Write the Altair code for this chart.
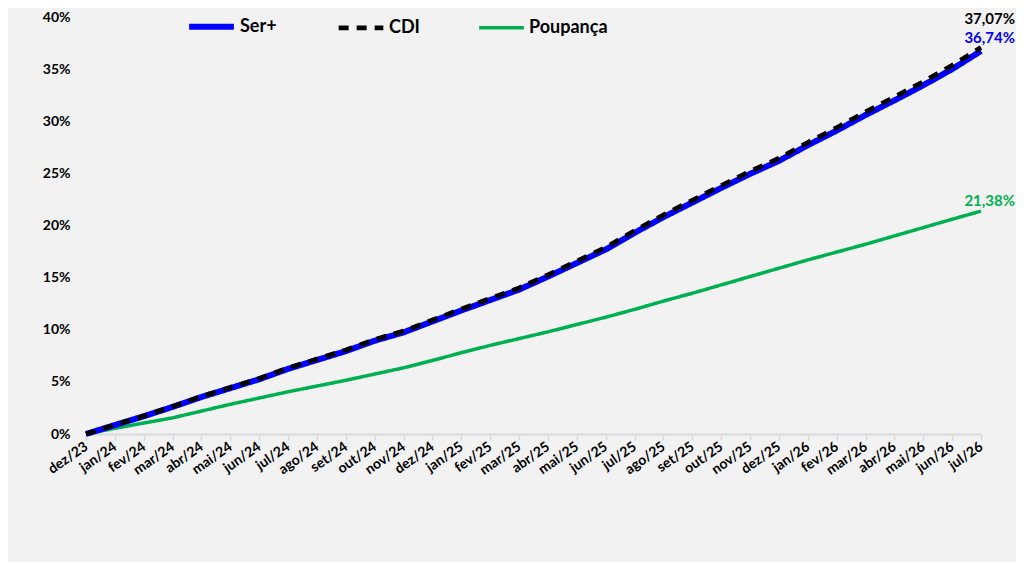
import altair as alt
import pandas as pd

months = ["dez/23",
          "jan/24", "fev/24", "mar/24", "abr/24", "mai/24", "jun/24",
          "jul/24", "ago/24", "set/24", "out/24", "nov/24", "dez/24",
          "jan/25", "fev/25", "mar/25", "abr/25", "mai/25", "jun/25",
          "jul/25", "ago/25", "set/25", "out/25", "nov/25", "dez/25",
          "jan/26", "fev/26", "mar/26", "abr/26", "mai/26", "jun/26", "jul/26"]

ser_plus = [0.00, 0.86, 1.70, 2.60, 3.55, 4.40, 5.25, 6.25, 7.10, 7.95, 8.95, 9.75,
            10.80, 11.85, 12.85, 13.85, 15.10, 16.40, 17.70, 19.30, 20.80, 22.20,
            23.60, 24.95, 26.20, 27.70, 29.10, 30.60, 32.00, 33.45, 35.00, 36.74]

cdi = [0.00, 0.88, 1.73, 2.64, 3.60, 4.46, 5.32, 6.33, 7.19, 8.05, 9.06, 9.87,
       10.93, 11.99, 13.00, 14.01, 15.27, 16.58, 17.89, 19.50, 21.01, 22.42,
       23.83, 25.19, 26.45, 27.96, 29.38, 30.90, 32.32, 33.79, 35.36, 37.07]

poupanca = [0.00, 0.55, 1.05, 1.55, 2.20, 2.85, 3.45, 4.05, 4.60, 5.15, 5.75, 6.35,
            7.05, 7.80, 8.50, 9.15, 9.80, 10.50, 11.20, 11.95, 12.75, 13.50,
            14.30, 15.10, 15.90, 16.70, 17.45, 18.20, 19.00, 19.80, 20.60, 21.38]

series_names = ["Ser+", "CDI", "Poupança"]
series_values = [ser_plus, cdi, poupanca]
series_colors = ["#0000ff", "#000000", "#00b050"]

rows = []
for name, vals in zip(series_names, series_values):
    for m, v in zip(months, vals):
        rows.append({"mes": m, "serie": name, "valor": v / 100.0})
df = pd.DataFrame(rows)

end_rows = []
for name, vals in zip(series_names, series_values):
    end_rows.append({"mes": months[-1], "serie": name, "valor": vals[-1] / 100.0,
                     "rotulo": f"{vals[-1]:.2f}".replace(".", ",") + "%"})
df_end = pd.DataFrame(end_rows)

FONT = "Lato"

x_enc = alt.X("mes:O", sort=months, title=None,
              scale=alt.Scale(padding=0),
              axis=alt.Axis(labelAngle=-35, labelAlign="right", labelBaseline="middle",
                            labelFontSize=14, labelFontWeight="bold", labelFont=FONT,
                            labelColor="#000000", labelPadding=5,
                            domainColor="#d9d9d9", domainWidth=2,
                            tickColor="#d9d9d9", tickSize=6, tickWidth=1.5,
                            grid=False))
y_enc = alt.Y("valor:Q", title=None,
              scale=alt.Scale(domain=[0, 0.40], nice=False, zero=True),
              axis=alt.Axis(format=".0%", values=[0, 0.05, 0.10, 0.15, 0.20, 0.25, 0.30, 0.35, 0.40],
                            labelFontSize=14, labelFontWeight="bold", labelFont=FONT,
                            labelColor="#000000", labelPadding=16,
                            domain=False, ticks=False, grid=False))

legend = alt.Legend(title=None, orient="none", legendX=100, legendY=-16,
                    direction="horizontal", symbolType="stroke", symbolSize=2000,
                    labelFontSize=18, labelFontWeight="bold", labelFont=FONT,
                    labelColor="#000000", columnPadding=52, labelOffset=3)

base = alt.Chart(df).mark_line(strokeCap="butt", strokeJoin="round").encode(
    x=x_enc,
    y=y_enc,
    color=alt.Color("serie:N", scale=alt.Scale(domain=series_names, range=series_colors),
                    legend=legend),
    strokeDash=alt.StrokeDash("serie:N",
                              scale=alt.Scale(domain=series_names,
                                              range=[[1, 0], [10, 8], [1, 0]]),
                              legend=legend),
    strokeWidth=alt.StrokeWidth("serie:N",
                                scale=alt.Scale(domain=series_names, range=[6, 3.5, 2.5]),
                                legend=legend),
)

lines = [base.transform_filter(alt.datum.serie == n) for n in ["Poupança", "Ser+", "CDI"]]

label_dy = {"Ser+": -13, "CDI": -29, "Poupança": -10}
texts = []
for name, col in zip(series_names, series_colors):
    t = alt.Chart(df_end).transform_filter(alt.datum.serie == name).mark_text(
        align="right", baseline="middle", dx=34, dy=label_dy[name],
        fontSize=15, fontWeight="bold", font=FONT, color=col
    ).encode(x=alt.X("mes:O", sort=months), y=alt.Y("valor:Q"), text="rotulo:N")
    texts.append(t)

chart = alt.layer(*lines, *texts).properties(
    width=895, height=417,
    autosize=alt.AutoSizeParams(type="none"),
    padding={"left": 78, "top": 9, "right": 35, "bottom": 128},
    background="#f2f2f2",
).configure_view(stroke=None)

chart.save("out.html", embed_options={"renderer": "svg", "actions": False})
